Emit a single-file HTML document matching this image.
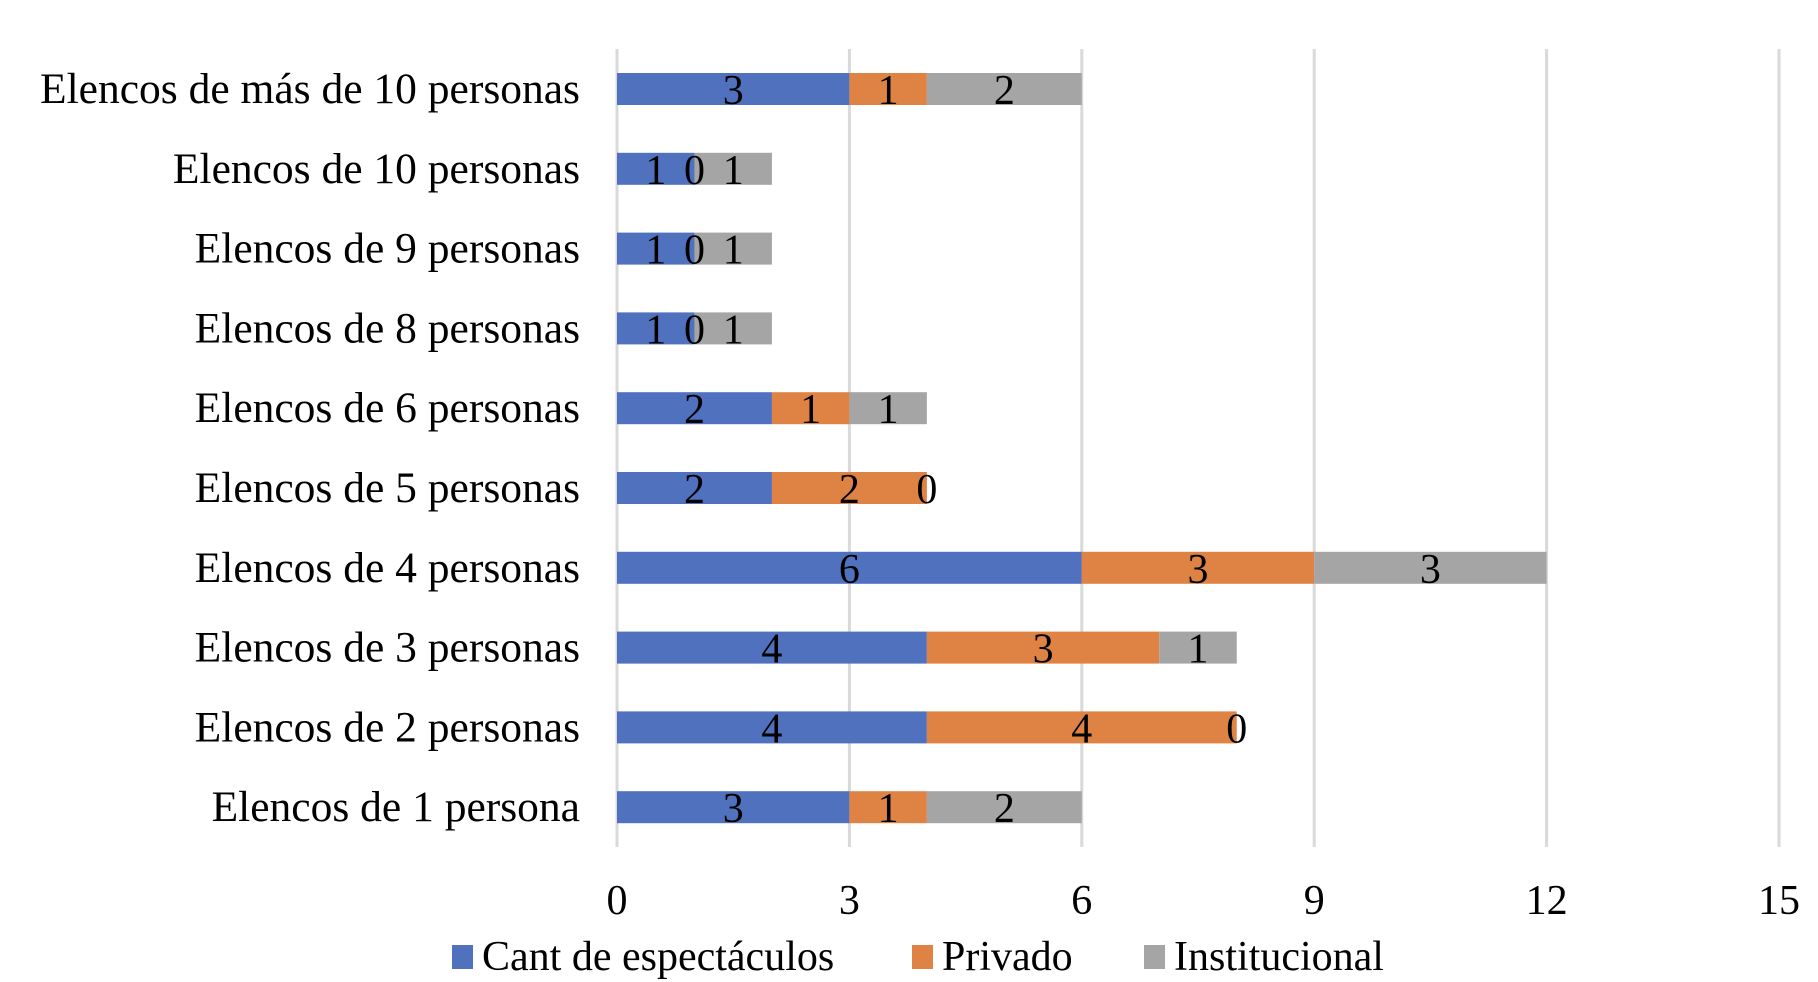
<!DOCTYPE html>
<html><head><meta charset="utf-8"><style>
html,body{margin:0;padding:0;background:#fff}
svg{display:block}
text{font-family:"Liberation Serif",serif;fill:#000}
</style></head><body>
<svg id="chart" width="1818" height="982" viewBox="0 0 1818 982" xmlns="http://www.w3.org/2000/svg">
<g id="grid"></g>
<g id="bars"></g>
<g id="vlabels"></g>
<g id="ylabels"></g>
<g id="xlabels"></g>
<g id="legend"></g>
</svg>
<script>
const categories = ["Elencos de más de 10 personas","Elencos de 10 personas","Elencos de 9 personas","Elencos de 8 personas","Elencos de 6 personas","Elencos de 5 personas","Elencos de 4 personas","Elencos de 3 personas","Elencos de 2 personas","Elencos de 1 persona"];
const cantValues = [3,1,1,1,2,2,6,4,4,3];
const privadoValues = [1,0,0,0,1,2,3,3,4,1];
const institucionalValues = [2,1,1,1,1,0,3,1,0,2];
const seriesNames = ["Cant de espectáculos","Privado","Institucional"];
const xTicks = [0,3,6,9,12,15];

const NS="http://www.w3.org/2000/svg";
const colors=["#4F71BE","#DE8344","#A5A5A5"];
const x0=617, x1=1779, xmax=15;
const xs=v=>x0+(v/xmax)*(x1-x0);
const yTop=89, yStep=79.8, barH=32;
const yc=i=>yTop+i*yStep;
const FS=42, SX=1.0;
function mk(tag,attrs,parent){const e=document.createElementNS(NS,tag);for(const k in attrs)e.setAttribute(k,attrs[k]);parent.appendChild(e);return e;}
function txt(parent,x,y,s,anchor,fs){const t=mk("text",{transform:`translate(${x},${y}) scale(${SX},1)`,"text-anchor":anchor,"font-size":fs||FS,"dominant-baseline":"central"},parent);t.textContent=s;return t;}

const grid=document.getElementById("grid");
xTicks.forEach(v=>{const l=mk("line",{x1:xs(v),x2:xs(v),y1:49,y2:847,stroke:"#D9D9D9","stroke-width":3},grid);

});

const bars=document.getElementById("bars");
const vl=document.getElementById("vlabels");
const series=[cantValues,privadoValues,institucionalValues];
categories.forEach((c,i)=>{
  let acc=0;
  series.forEach((arr,s)=>{
    const v=arr[i];
    const r=mk("rect",{x:xs(acc),y:yc(i)-barH/2,width:xs(acc+v)-xs(acc),height:barH,fill:colors[s]},bars);
    
    
    const t=txt(vl,xs(acc+v/2),yc(i)+2,String(v),"middle");
    
    
    acc+=v;
  });
});

const yl=document.getElementById("ylabels");
categories.forEach((c,i)=>{const t=txt(yl,580,yc(i),c,"end",43.5);

});

const xl=document.getElementById("xlabels");
xTicks.forEach(v=>{const t=txt(xl,xs(v),901,String(v),"middle");

});

const lg=document.getElementById("legend");
const lx=[452,912,1144];
seriesNames.forEach((n,s)=>{
  const r=mk("rect",{x:lx[s],y:945,width:21,height:24,fill:colors[s]},lg);
  
  
  const t=txt(lg,lx[s]+30,957,n,"start");
  
  
});
</script>
</body></html>
